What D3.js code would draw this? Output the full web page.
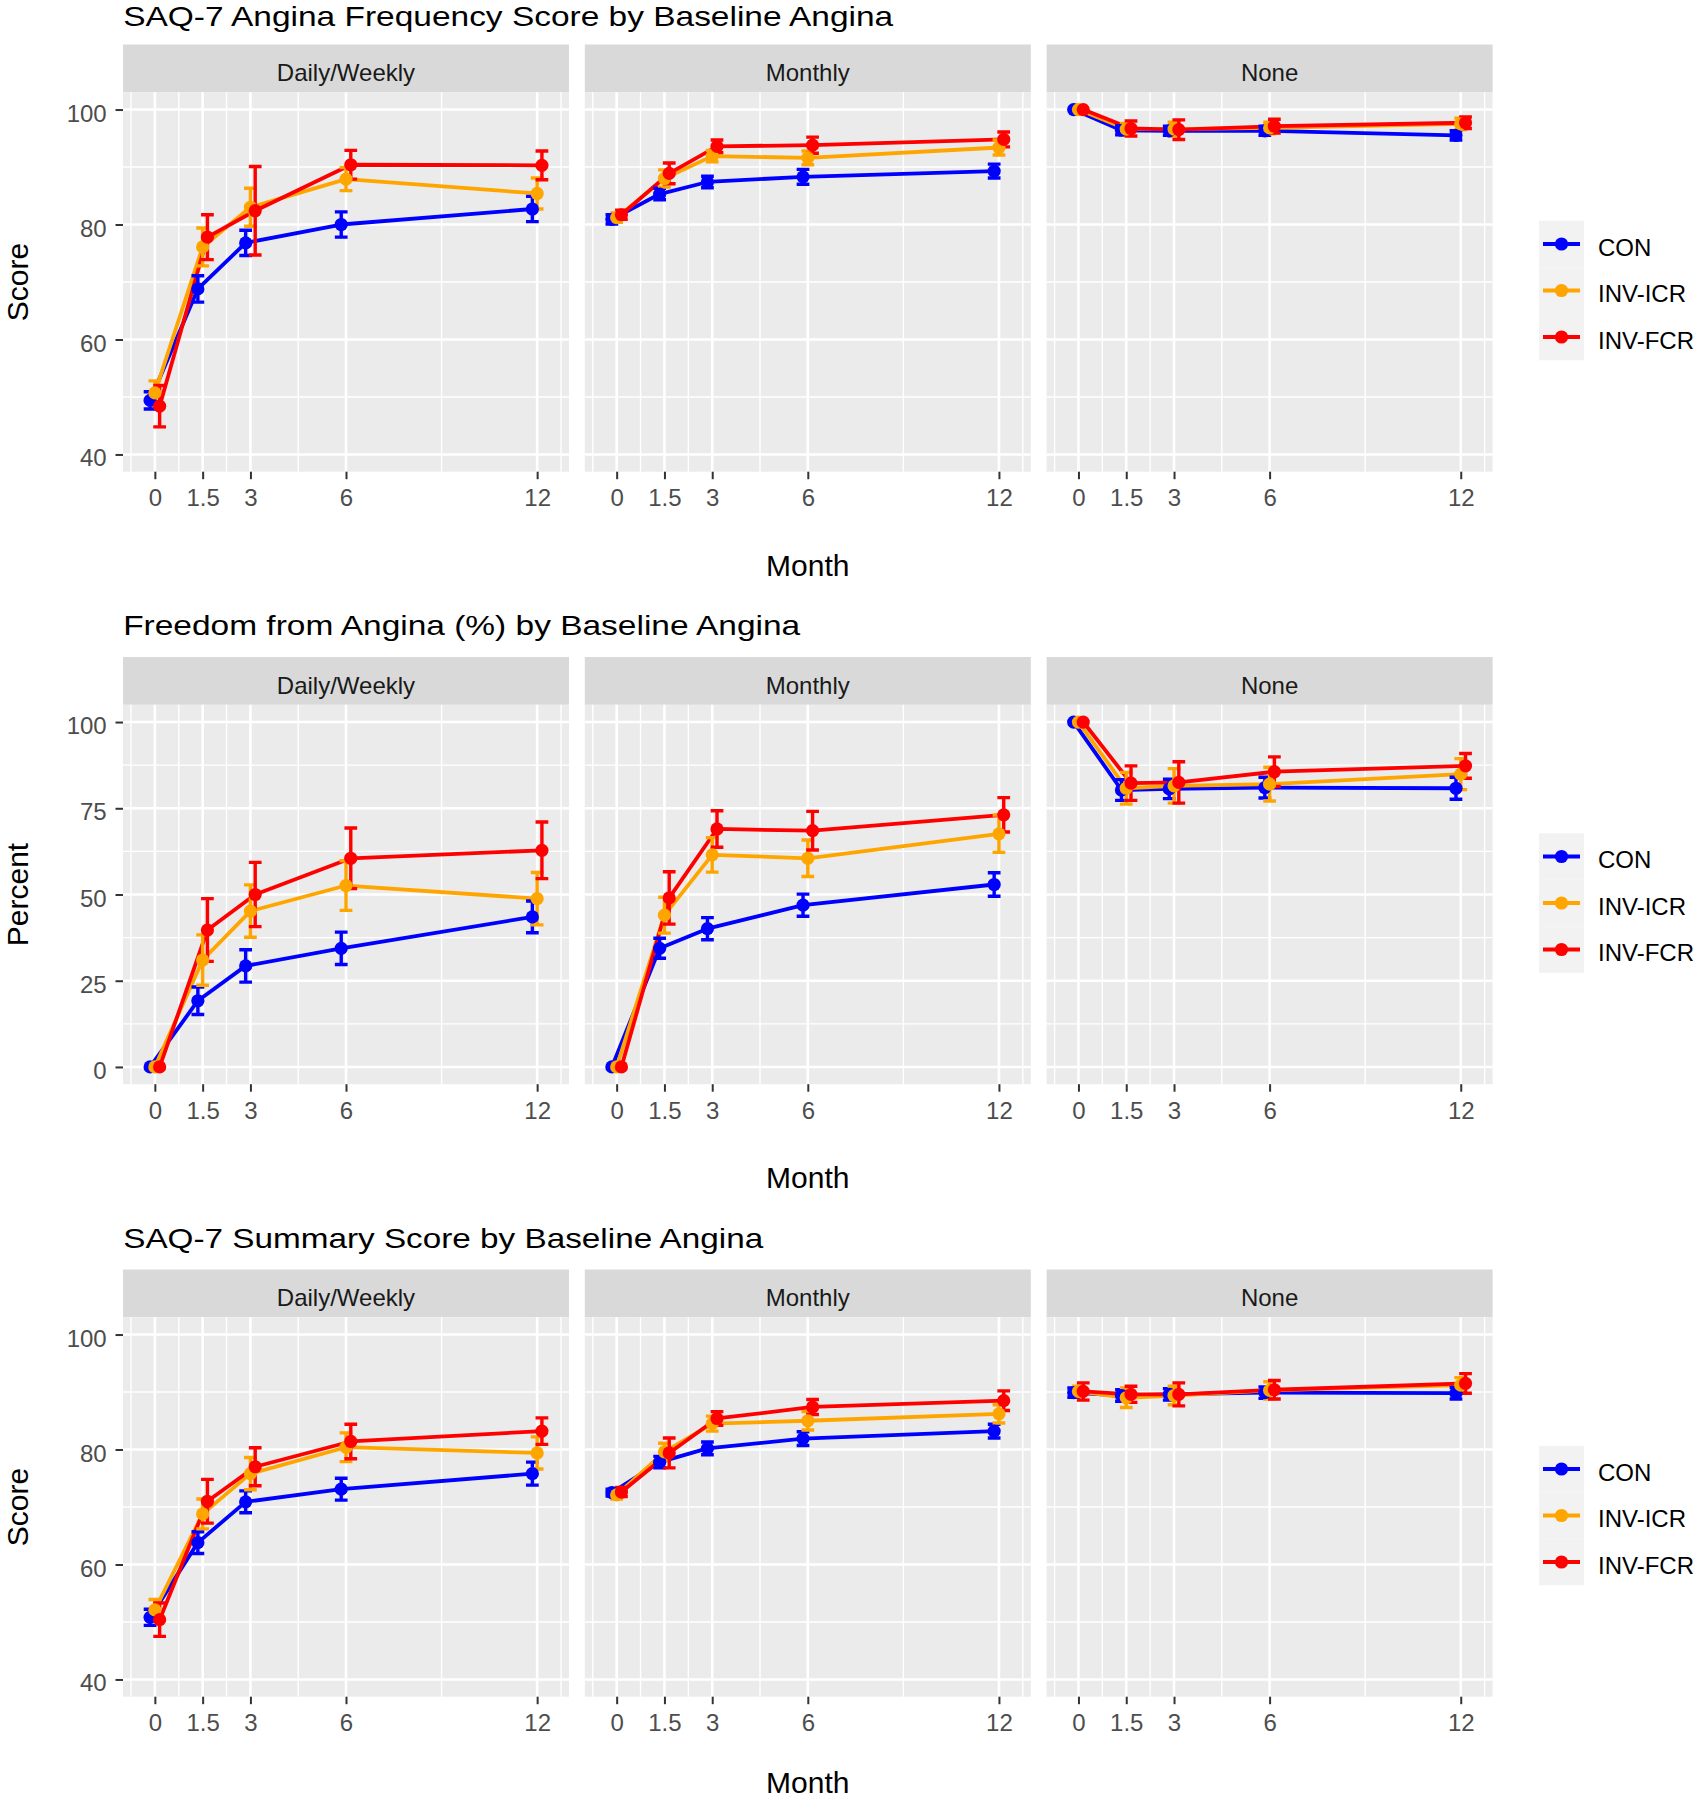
<!DOCTYPE html>
<html><head><meta charset="utf-8">
<script src="https://cdn.jsdelivr.net/npm/d3@7"></script>
<style>
body{margin:0;background:#fff}
svg{display:block}
text{font-family:"Liberation Sans",Arial,Helvetica,sans-serif}
</style>
</head><body>
<svg id="chart" width="1695" height="1800"></svg>
<script>
// ---------- data ----------
const months = [0, 1.5, 3, 6, 12];
const groups = ["CON", "INV-ICR", "INV-FCR"];
const groupColors = ["#0000FF", "#FFA500", "#FF0000"];
const facets = ["Daily/Weekly", "Monthly", "None"];
const titles = ["SAQ-7 Angina Frequency Score by Baseline Angina",
                "Freedom from Angina (%) by Baseline Angina",
                "SAQ-7 Summary Score by Baseline Angina"];
const yTitles = ["Score", "Percent", "Score"];
const xTitle = "Month";
const scoreTicks = [40, 60, 80, 100];
const scoreMinor = [50, 70, 90];
const pctTicks = [0, 25, 50, 75, 100];
const pctMinor = [12.5, 37.5, 62.5, 87.5];
const xMinor = [-0.75, 0.75, 2.25, 4.5, 9, 12.75];

// rows of each array: CON, INV-ICR, INV-FCR ; columns: months
const freqDailyMean   = [[49.4, 68.8, 76.8, 80.0, 82.7], [50.7, 76.1, 83.0, 87.9, 85.4], [48.4, 77.8, 82.4, 90.4, 90.3]];
const freqDailyErr    = [[1.5, 2.3, 2.2, 2.2, 2.2], [2.1, 3.3, 3.3, 2.0, 2.7], [3.6, 3.9, 7.7, 2.5, 2.5]];
const freqMonthlyMean = [[80.9, 85.3, 87.4, 88.3, 89.3], [81.2, 88.0, 91.9, 91.6, 93.4], [81.7, 88.9, 93.6, 93.8, 94.8]];
const freqMonthlyErr  = [[0.8, 1.0, 1.0, 1.3, 1.2], [0.8, 1.5, 1.0, 1.2, 1.3], [0.8, 1.8, 1.1, 1.4, 1.3]];
const freqNoneMean    = [[100, 96.4, 96.3, 96.3, 95.5], [100, 96.6, 96.6, 96.8, 97.5], [100, 96.7, 96.5, 97.1, 97.7]];
const freqNoneErr     = [[0, 0.8, 0.8, 0.8, 0.8], [0, 1.0, 1.2, 1.0, 1.0], [0, 1.3, 1.7, 1.2, 1.0]];

const freeDailyMean   = [[0, 19.2, 29.3, 34.4, 43.5], [0, 31.0, 45.2, 52.6, 48.8], [0, 39.7, 50.0, 60.5, 62.8]];
const freeDailyErr    = [[0, 4.0, 4.7, 4.7, 4.6], [0, 7.3, 7.6, 7.2, 7.6], [0, 9.1, 9.3, 8.8, 8.2]];
const freeMonthlyMean = [[0, 34.4, 40.1, 46.9, 52.9], [0, 44.0, 61.5, 60.5, 67.6], [0, 49.0, 69.0, 68.5, 73.1]];
const freeMonthlyErr  = [[0, 2.9, 3.2, 3.2, 3.4], [0, 5.2, 5.0, 5.3, 5.4], [0, 7.6, 5.3, 5.6, 5.0]];
const freeNoneMean    = [[100, 80.3, 80.6, 81.0, 80.8], [100, 80.8, 81.5, 82.0, 84.9], [100, 82.3, 82.5, 85.6, 87.3]];
const freeNoneErr     = [[0, 3.0, 2.8, 3.0, 3.2], [0, 4.6, 5.0, 4.9, 4.5], [0, 5.0, 6.0, 4.3, 3.6]];

const sumDailyMean    = [[50.8, 63.8, 70.9, 73.1, 75.8], [52.1, 68.8, 75.8, 80.4, 79.4], [50.4, 71.0, 77.0, 81.4, 83.2]];
const sumDailyErr     = [[1.4, 1.9, 1.9, 1.9, 2.0], [1.8, 2.6, 2.8, 2.5, 2.8], [2.9, 3.8, 3.3, 3.0, 2.3]];
const sumMonthlyMean  = [[72.5, 77.8, 80.2, 81.9, 83.2], [72.1, 79.6, 84.5, 85.0, 86.2], [72.6, 79.4, 85.4, 87.4, 88.5]];
const sumMonthlyErr   = [[0.6, 1.0, 1.1, 1.2, 1.2], [0.7, 1.5, 1.3, 1.6, 1.6], [0.8, 2.6, 1.2, 1.3, 1.7]];
const sumNoneMean     = [[89.9, 89.4, 89.6, 89.9, 89.8], [90.1, 89.0, 89.4, 90.3, 91.2], [90.1, 89.6, 89.6, 90.4, 91.5]];
const sumNoneErr      = [[0.8, 1.0, 1.0, 1.0, 1.0], [0.9, 1.7, 1.6, 1.5, 1.3], [1.5, 1.4, 2.0, 1.6, 1.7]];

// ---------- assemble ----------
const rows = [
  {title: titles[0], ytitle: yTitles[0], domain: [37, 103], ticks: scoreTicks, minor: scoreMinor, titleW: 770,
   means: [freqDailyMean, freqMonthlyMean, freqNoneMean], errs: [freqDailyErr, freqMonthlyErr, freqNoneErr]},
  {title: titles[1], ytitle: yTitles[1], domain: [-5, 105], ticks: pctTicks, minor: pctMinor, titleW: 677,
   means: [freeDailyMean, freeMonthlyMean, freeNoneMean], errs: [freeDailyErr, freeMonthlyErr, freeNoneErr]},
  {title: titles[2], ytitle: yTitles[2], domain: [37, 103], ticks: scoreTicks, minor: scoreMinor, titleW: 640,
   means: [sumDailyMean, sumMonthlyMean, sumNoneMean], errs: [sumDailyErr, sumMonthlyErr, sumNoneErr]}
];

// ---------- layout ----------
const W = 1695, H = 1800;
const rowStep = 612.5, row0 = 44.5;
const stripH = 47.8, panelH = 379.4;
const panelX0 = 123, panelW = 446, panelStep = 461.8;
const dodge = [-0.15, 0, 0.15];
const capHalf = 0.2;
const lineW = 3.8, errW = 3.4, ptR = 6.6;

const svg = d3.select("#chart");

rows.forEach((row, r) => {
  const T = row0 + r * rowStep;
  const g = svg.append("g");
  const y = d3.scaleLinear().domain(row.domain).range([T + stripH + panelH, T + stripH]);

  // title
  g.append("text").attr("x", 123.2).attr("y", Math.max(T - 22, 25.5))
    .attr("font-size", 28).attr("fill", "#000")
    .attr("textLength", row.titleW).attr("lengthAdjust", "spacingAndGlyphs")
    .text(row.title);

  facets.forEach((fname, f) => {
    const px = panelX0 + f * panelStep;
    const x = d3.scaleLinear().domain([-1, 13]).range([px, px + panelW]);
    const pg = g.append("g");

    // strip
    pg.append("rect").attr("x", px).attr("y", T).attr("width", panelW).attr("height", stripH).attr("fill", "#D9D9D9");
    pg.append("text").attr("x", px + panelW / 2).attr("y", T + 36.5).attr("text-anchor", "middle")
      .attr("font-size", 24).attr("fill", "#1A1A1A").text(fname);

    // panel
    pg.append("rect").attr("x", px).attr("y", T + stripH).attr("width", panelW).attr("height", panelH).attr("fill", "#EBEBEB");

    // grid
    const top = T + stripH, bot = T + stripH + panelH;
    pg.selectAll(".hmin").data(row.minor).enter().append("line")
      .attr("x1", px).attr("x2", px + panelW).attr("y1", d => y(d)).attr("y2", d => y(d))
      .attr("stroke", "#fff").attr("stroke-width", 1.4);
    pg.selectAll(".vmin").data(xMinor).enter().append("line")
      .attr("y1", top).attr("y2", bot).attr("x1", d => x(d)).attr("x2", d => x(d))
      .attr("stroke", "#fff").attr("stroke-width", 1.4);
    pg.selectAll(".hmaj").data(row.ticks).enter().append("line")
      .attr("x1", px).attr("x2", px + panelW).attr("y1", d => y(d)).attr("y2", d => y(d))
      .attr("stroke", "#fff").attr("stroke-width", 2.6);
    pg.selectAll(".vmaj").data(months).enter().append("line")
      .attr("y1", top).attr("y2", bot).attr("x1", d => x(d)).attr("x2", d => x(d))
      .attr("stroke", "#fff").attr("stroke-width", 2.6);

    // data
    const series = groups.map((gn, gi) => months.map((m, mi) => ({
      m: m, xv: m + dodge[gi], v: row.means[f][gi][mi], e: row.errs[f][gi][mi], gi: gi
    })));
    const line = d3.line().x(d => x(d.xv)).y(d => y(d.v));

    series.forEach((s, gi) => {
      pg.append("path").attr("d", line(s)).attr("fill", "none")
        .attr("stroke", groupColors[gi]).attr("stroke-width", lineW).attr("stroke-linejoin", "round");
    });
    series.forEach((s, gi) => {
      const eg = pg.append("g").attr("stroke", groupColors[gi]).attr("stroke-width", errW).attr("fill", "none");
      s.filter(d => d.e > 0).forEach(d => {
        const xc = x(d.xv), x0 = x(d.xv - capHalf), x1 = x(d.xv + capHalf);
        const yt = y(d.v + d.e), yb = y(d.v - d.e);
        eg.append("path").attr("d", `M${x0},${yt}H${x1}M${xc},${yt}V${yb}M${x0},${yb}H${x1}`);
      });
    });
    series.forEach((s, gi) => {
      pg.selectAll(null).data(s).enter().append("circle")
        .attr("cx", d => x(d.xv)).attr("cy", d => y(d.v)).attr("r", ptR).attr("fill", groupColors[gi]);
    });

    // x axis
    const xa = pg.append("g").attr("transform", `translate(0,${bot})`)
      .call(d3.axisBottom(x).tickValues(months).tickSize(7.5).tickPadding(10).tickFormat(d => String(d)));
    xa.select(".domain").remove();
    xa.selectAll(".tick line").attr("stroke", "#333").attr("stroke-width", 2);
    xa.selectAll(".tick text").attr("font-size", 24).attr("fill", "#4D4D4D")
      .attr("font-family", null).attr("dy", null).attr("y", 462 - 427.2);

    if (f === 0) {
      const ya = pg.append("g").attr("transform", `translate(${px},0)`)
        .call(d3.axisLeft(y).tickValues(row.ticks).tickSize(7.5).tickPadding(8.8));
      ya.select(".domain").remove();
      ya.selectAll(".tick line").attr("stroke", "#333").attr("stroke-width", 2);
      ya.selectAll(".tick text").attr("font-size", 24).attr("fill", "#4D4D4D")
        .attr("font-family", null).attr("dy", "0.48em");
    }
  });

  // axis titles
  const panelsMid = panelX0 + (2 * panelStep + panelW) / 2;
  g.append("text").attr("x", panelsMid).attr("y", Math.min(T + 531, H - 7)).attr("text-anchor", "middle")
    .attr("font-size", 30).attr("fill", "#000").text(xTitle);
  g.append("text").attr("transform", `translate(28,${T + stripH + panelH / 2}) rotate(-90)`)
    .attr("text-anchor", "middle").attr("font-size", 30).attr("fill", "#000").text(row.ytitle);

  // legend
  const lg = g.append("g");
  groups.forEach((gn, gi) => {
    const ky = T + 199.5 + gi * 46.5;
    lg.append("rect").attr("x", 1539).attr("y", ky - 23.25).attr("width", 45).attr("height", 46.5).attr("fill", "#F2F2F2");
    lg.append("line").attr("x1", 1543).attr("x2", 1580).attr("y1", ky).attr("y2", ky)
      .attr("stroke", groupColors[gi]).attr("stroke-width", lineW);
    lg.append("circle").attr("cx", 1561.5).attr("cy", ky).attr("r", ptR).attr("fill", groupColors[gi]);
    lg.append("text").attr("x", 1598).attr("y", ky + 11.5).attr("font-size", 24).attr("fill", "#000").text(gn);
  });
});
</script>
</body></html>
